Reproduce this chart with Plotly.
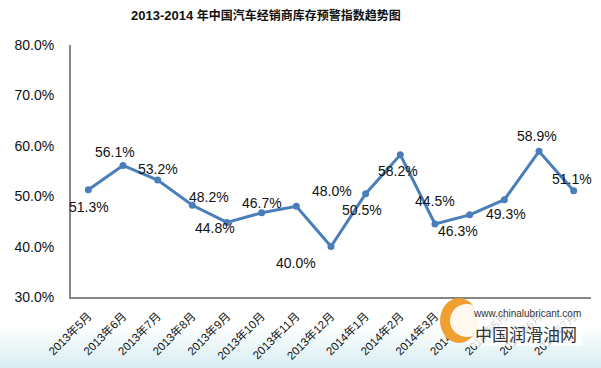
import plotly.graph_objects as go

months = ["2013年5月", "2013年6月", "2013年7月", "2013年8月", "2013年9月", "2013年10月",
          "2013年11月", "2013年12月", "2014年1月", "2014年2月", "2014年3月", "2014年4月",
          "2014年5月", "2014年6月", "2014年7月"]
index_values = [0.513, 0.561, 0.532, 0.482, 0.448, 0.467, 0.480, 0.400, 0.505, 0.582,
                0.445, 0.463, 0.493, 0.589, 0.511]
label_texts = ["51.3%", "56.1%", "53.2%", "48.2%", "44.8%", "46.7%", "48.0%", "40.0%",
               "50.5%", "58.2%", "44.5%", "46.3%", "49.3%", "58.9%", "51.1%"]
# label pixel offsets (dx right, dy down)
label_offsets = [(1, 17), (-8, -13), (0, -11), (17, -8), (-12, 6), (0, -10), (36, -15),
                 (-35, 16), (-4, 16), (-2, 16), (0, -23), (-12, 16), (2, 14), (-2, -15), (-2, -12)]

W, H = 601, 368
L, R, T, B = 71, 10, 45, 71
PW, PH = W - L - R, H - T - B

FONT = "Liberation Sans, Arial, Noto Sans CJK SC, sans-serif"
LINE = "#4A7EBB"

fig = go.Figure()
fig.add_trace(go.Scatter(
    x=months, y=index_values, mode="lines+markers",
    line=dict(color=LINE, width=3),
    marker=dict(color=LINE, size=7),
    hoverinfo="skip", showlegend=False,
))

def px_x(x):
    return (x - L) / PW

def px_y(y):
    return (H - B - y) / PH

annotations = []
for m, v, t, (dx, dy) in zip(months, index_values, label_texts, label_offsets):
    annotations.append(dict(x=m, y=v, xref="x", yref="y", text=t, showarrow=False,
                            xshift=dx, yshift=-dy, xanchor="center", yanchor="middle",
                            font=dict(family=FONT, size=14, color="#111111")))

# title
annotations.append(dict(
    x=px_x(266), y=px_y(16), xref="paper", yref="paper", xanchor="center", yanchor="middle",
    text="<b>2013-2014 </b><span style='font-size:12px'><b>年中国汽车经销商库存预警指数趋势图</b></span>",
    showarrow=False, font=dict(family="Liberation Sans, Noto Sans CJK SC, sans-serif", size=13, color="#111111"),
))

shapes = []
# bottom light gradient background
g_top, g_bot = 326, 368
steps = 14
for i in range(steps):
    y0 = g_top + (g_bot - g_top) * i / steps
    y1 = g_top + (g_bot - g_top) * (i + 1) / steps
    f = (i + 0.5) / steps
    r = int(255 - (255 - 216) * f)
    g = int(255 - (255 - 238) * f)
    b = int(255 - (255 - 242) * f)
    shapes.append(dict(type="rect", xref="paper", yref="paper", layer="below",
                       x0=px_x(0), x1=px_x(W), y0=px_y(y1), y1=px_y(y0),
                       line=dict(width=0), fillcolor=f"rgb({r},{g},{b})"))

# watermark logo (approximation)
shapes.append(dict(type="rect", xref="paper", yref="paper", layer="above",
                   x0=px_x(466), x1=px_x(582), y0=px_y(346), y1=px_y(303),
                   line=dict(width=0), fillcolor="rgba(255,255,255,0.8)"))
shapes.append(dict(type="circle", xref="paper", yref="paper", layer="above",
                   x0=px_x(440), x1=px_x(478), y0=px_y(343), y1=px_y(298),
                   line=dict(width=0), fillcolor="#F0A030"))
shapes.append(dict(type="circle", xref="paper", yref="paper", layer="above",
                   x0=px_x(450), x1=px_x(484), y0=px_y(337), y1=px_y(304),
                   line=dict(width=0), fillcolor="rgba(255,255,255,0.92)"))
annotations.append(dict(x=px_x(527), y=px_y(313), xref="paper", yref="paper",
                        xanchor="center", yanchor="middle",
                        text="www.chinalubricant.com", showarrow=False,
                        font=dict(family="Liberation Sans, sans-serif", size=10, color="#333333")))
annotations.append(dict(x=px_x(526), y=px_y(333), xref="paper", yref="paper",
                        xanchor="center", yanchor="middle",
                        text="中国润滑油网", showarrow=False,
                        font=dict(family="Noto Sans CJK SC, sans-serif", size=17, color="#333333")))

fig.update_layout(
    width=W, height=H,
    margin=dict(l=L, r=R, t=T, b=B, autoexpand=False),
    paper_bgcolor="white", plot_bgcolor="white",
    annotations=annotations, shapes=shapes,
    xaxis=dict(type="category", range=[-0.5, len(months) - 0.5], automargin=False,
               showgrid=False, zeroline=False, showline=True, linecolor="#868686", linewidth=2,
               ticks="", tickangle=-45, ticklabelstandoff=6,
               tickfont=dict(family=FONT, size=11.5, color="#111111")),
    yaxis=dict(range=[0.30, 0.80], dtick=0.1, tick0=0.3, tickformat=".1%", automargin=False,
               showgrid=False, zeroline=False, showline=True, linecolor="#868686", linewidth=2,
               ticks="", ticklabelstandoff=12,
               tickfont=dict(family=FONT, size=14, color="#111111")),
)

fig.write_html("out.html", config={"displayModeBar": False},
               post_script="document.body.style.margin='0px';")
